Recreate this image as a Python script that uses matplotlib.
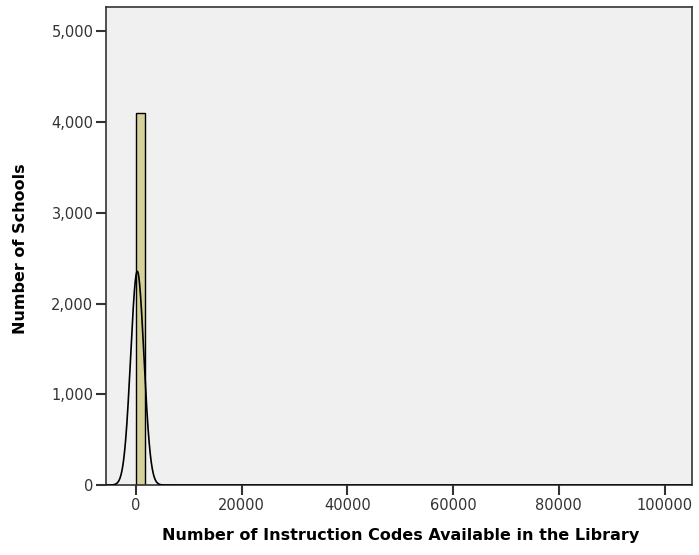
import numpy as np
import matplotlib
matplotlib.use('Agg')
import matplotlib.pyplot as plt

# histogram bins (instruction codes) and school counts
bin_edges = [0, 1700]
counts = [4100]

# fitted normal curve parameters
curve_mean = 250
curve_sd = 1250
n_schools = 4340

x_ticks = [0, 20000, 40000, 60000, 80000, 100000]
y_ticks = [0, 1000, 2000, 3000, 4000, 5000]

fig = plt.figure(figsize=(6.99, 5.55), dpi=100)
ax = fig.add_axes([0.1516, 0.126, 0.8384, 0.861])
ax.set_facecolor('#f0f0f0')

widths = np.diff(bin_edges)
ax.bar(bin_edges[:-1], counts, width=widths, align='edge',
       color='#d6d09a', edgecolor='black', linewidth=1.0, zorder=2)

bw = widths[0]
xs = np.linspace(-5600, 105000, 4000)
ys = n_schools * bw / (curve_sd * np.sqrt(2 * np.pi)) * np.exp(-0.5 * ((xs - curve_mean) / curve_sd) ** 2)
ax.plot(xs, ys, color='black', linewidth=1.2, zorder=3)

ax.set_xlim(-5676, 105200)
ax.set_ylim(0, 5264)
ax.set_xticks(x_ticks)
ax.set_xticklabels([str(t) for t in x_ticks], fontsize=10.5, color='#333333')
ax.set_yticks(y_ticks)
ax.set_yticklabels(['{:,}'.format(t) for t in y_ticks], fontsize=10.5, color='#333333')
ax.tick_params(axis='both', length=7, width=1.5, color='#333333', pad=2)

for s in ax.spines.values():
    s.set_color('#333333')
    s.set_linewidth(1.2)

lab_font = dict(fontsize=11.5, fontweight='bold', family='DejaVu Sans')
ax.set_xlabel('Number of Instruction Codes Available in the Library', **lab_font)
ax.set_ylabel('Number of Schools', **lab_font)
ax.xaxis.set_label_coords(0.502, -0.09)
ax.yaxis.set_label_coords(-0.133, 0.494)

fig.savefig('out.png', dpi=100, facecolor='white')
